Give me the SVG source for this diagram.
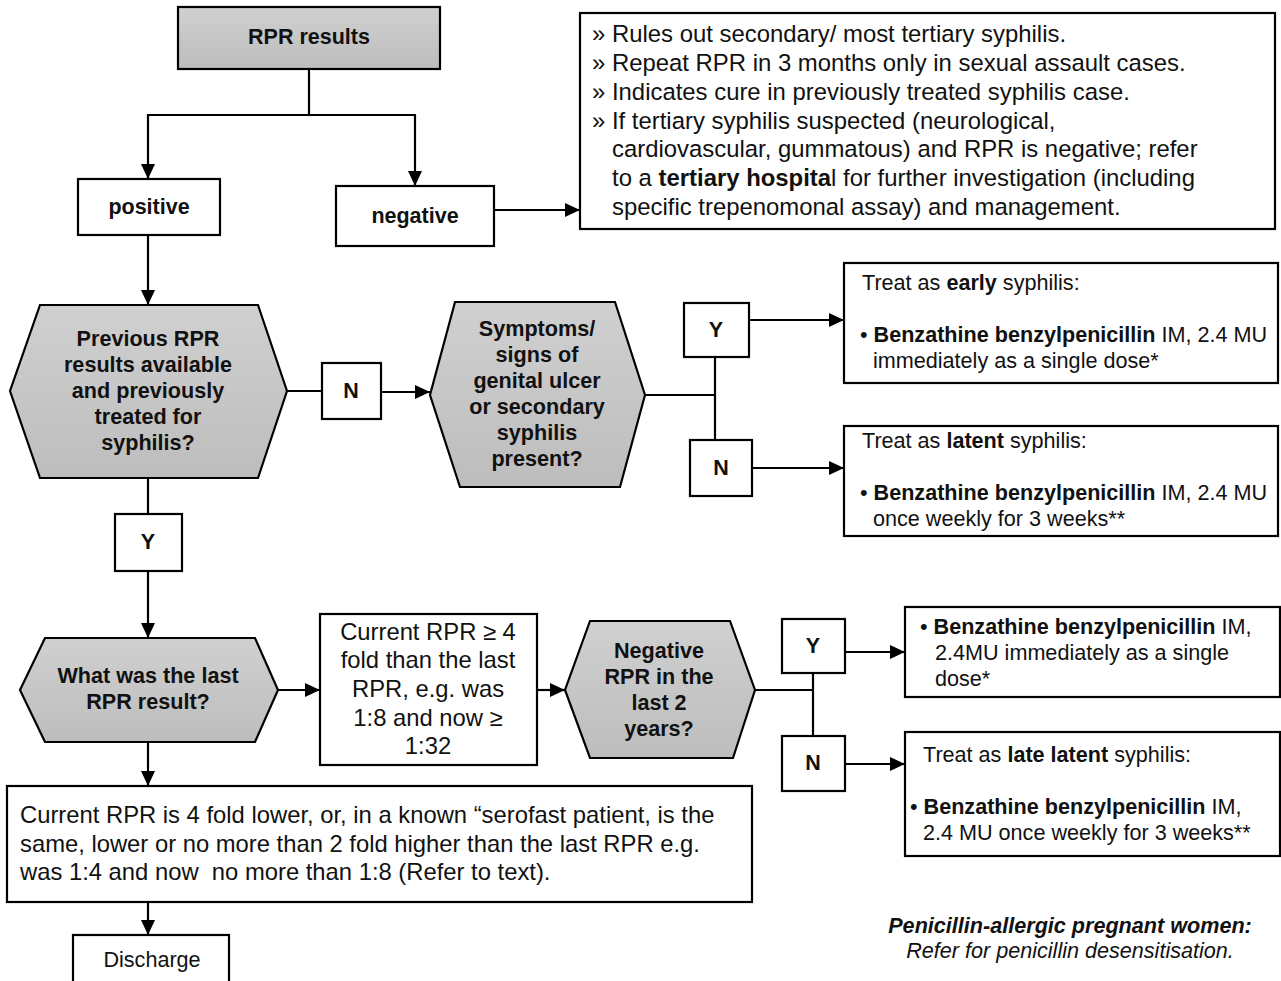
<svg xmlns="http://www.w3.org/2000/svg" width="1281" height="981" viewBox="0 0 1281 981">
<defs>
<marker id="ah" markerUnits="userSpaceOnUse" markerWidth="16" markerHeight="14" refX="15" refY="7" orient="auto">
<path d="M0 0 L15 7 L0 14 Z" fill="#000"/>
</marker>
<linearGradient id="gr" x1="0" y1="0" x2="0" y2="1">
<stop offset="0" stop-color="#d0d0d0"/><stop offset="1" stop-color="#bdbdbd"/>
</linearGradient>
</defs>
<style>
.box{fill:#fff;stroke:#000;stroke-width:2.2}
.hex{fill:url(#gr);stroke:#000;stroke-width:2.2}
.c{fill:none;stroke:#000;stroke-width:2.2}
.a{marker-end:url(#ah)}
text{font-family:"Liberation Sans",Arial,sans-serif;fill:#111}
.lb{font-size:21.5px;font-weight:bold;text-anchor:middle}
.hx{font-size:21.6px;font-weight:bold;text-anchor:middle}
.nt{font-size:23.9px}
.tx{font-size:21.6px}
.tb{font-size:23.8px}
.b{font-weight:bold}
</style>
<rect width="1281" height="981" fill="#fff"/>
<g id="connectors">
<path class="c a" d="M309 69 V115 H148 V179"/>
<path class="c a" d="M309 115 H415 V186"/>
<path class="c a" d="M494 210 H580"/>
<path class="c a" d="M148 235 V305"/>
<path class="c" d="M287 391 H322"/>
<path class="c a" d="M381 392 H430"/>
<path class="c" d="M645 395 H715 M715 357 V440"/>
<path class="c a" d="M749 320 H844"/>
<path class="c a" d="M752 468 H844"/>
<path class="c" d="M148 478 V514"/>
<path class="c a" d="M148 571 V638"/>
<path class="c a" d="M278 690 H320"/>
<path class="c a" d="M537 690 H565"/>
<path class="c" d="M755 690 H813 M813 673 V736"/>
<path class="c a" d="M845 652 H905"/>
<path class="c a" d="M845 764 H905"/>
<path class="c a" d="M148 742 V786"/>
<path class="c a" d="M148 902 V935"/>
</g>
<g id="rpr-results">
<rect class="hex" x="178" y="7" width="262" height="62"/>
<text class="lb" x="309" y="44">RPR results</text>
</g>
<g id="positive">
<rect class="box" x="78" y="179" width="142" height="56"/>
<text class="lb" x="149" y="214">positive</text>
</g>
<g id="negative">
<rect class="box" x="336" y="186" width="158" height="60"/>
<text class="lb" x="415" y="223">negative</text>
</g>
<g id="negative-notes">
<rect class="box" x="580" y="13" width="695" height="216"/>
<text class="nt" x="592" y="42">» Rules out secondary/ most tertiary syphilis.</text>
<text class="nt" x="592" y="71">» Repeat RPR in 3 months only in sexual assault cases.</text>
<text class="nt" x="592" y="100">» Indicates cure in previously treated syphilis case.</text>
<text class="nt" x="592" y="129">» If tertiary syphilis suspected (neurological,</text>
<text class="nt" x="612" y="157">cardiovascular, gummatous) and RPR is negative; refer</text>
<text class="nt" x="612" y="186">to a <tspan class="b">tertiary hospita</tspan>l for further investigation (including</text>
<text class="nt" x="612" y="215">specific trepenomonal assay) and management.</text>
</g>
<g id="previous-rpr">
<polygon class="hex" points="40,305 258,305 287,391 258,478 40,478 10,391"/>
<text class="hx" x="148" y="346">Previous RPR</text>
<text class="hx" x="148" y="372">results available</text>
<text class="hx" x="148" y="398">and previously</text>
<text class="hx" x="148" y="424">treated for</text>
<text class="hx" x="148" y="450">syphilis?</text>
</g>
<g id="n1">
<rect class="box" x="322" y="363" width="59" height="56"/>
<text class="lb" x="351" y="398">N</text>
</g>
<g id="symptoms">
<polygon class="hex" points="455,302 615,302 645,395 620,487 460,487 430,395"/>
<text class="hx" x="537" y="336">Symptoms/</text>
<text class="hx" x="537" y="362">signs of</text>
<text class="hx" x="537" y="388">genital ulcer</text>
<text class="hx" x="537" y="414">or secondary</text>
<text class="hx" x="537" y="440">syphilis</text>
<text class="hx" x="537" y="466">present?</text>
</g>
<g id="y2">
<rect class="box" x="684" y="303" width="65" height="54"/>
<text class="lb" x="716" y="337">Y</text>
</g>
<g id="n2">
<rect class="box" x="690" y="440" width="62" height="56"/>
<text class="lb" x="721" y="475">N</text>
</g>
<g id="early">
<rect class="box" x="844" y="263" width="434" height="120"/>
<text class="tx" x="862" y="290">Treat as <tspan class="b">early</tspan> syphilis:</text>
<text class="tx" x="860" y="342">• <tspan class="b">Benzathine benzylpenicillin</tspan> IM, 2.4 MU</text>
<text class="tx" x="873" y="368">immediately as a single dose*</text>
</g>
<g id="latent">
<rect class="box" x="844" y="426" width="434" height="110"/>
<text class="tx" x="862" y="448">Treat as <tspan class="b">latent</tspan> syphilis:</text>
<text class="tx" x="860" y="500">• <tspan class="b">Benzathine benzylpenicillin</tspan> IM, 2.4 MU</text>
<text class="tx" x="873" y="526">once weekly for 3 weeks**</text>
</g>
<g id="y1">
<rect class="box" x="115" y="514" width="67" height="57"/>
<text class="lb" x="148" y="549">Y</text>
</g>
<g id="last-rpr">
<polygon class="hex" points="45,638 255,638 278,690 255,742 45,742 20,690"/>
<text class="hx" x="148" y="683">What was the last</text>
<text class="hx" x="148" y="709">RPR result?</text>
</g>
<g id="current-higher">
<rect class="box" x="320" y="614" width="217" height="151"/>
<text class="tb" x="428" y="640" text-anchor="middle">Current RPR ≥ 4</text>
<text class="tb" x="428" y="668" text-anchor="middle">fold than the last</text>
<text class="tb" x="428" y="697" text-anchor="middle">RPR, e.g. was</text>
<text class="tb" x="428" y="726" text-anchor="middle">1:8 and now ≥</text>
<text class="tb" x="428" y="754" text-anchor="middle">1:32</text>
</g>
<g id="negative-2yrs">
<polygon class="hex" points="590,621 730,621 755,690 733,758 590,758 565,690"/>
<text class="hx" x="659" y="658">Negative</text>
<text class="hx" x="659" y="684">RPR in the</text>
<text class="hx" x="659" y="710">last 2</text>
<text class="hx" x="659" y="736">years?</text>
</g>
<g id="y3">
<rect class="box" x="782" y="619" width="63" height="54"/>
<text class="lb" x="813" y="653">Y</text>
</g>
<g id="n3">
<rect class="box" x="782" y="736" width="63" height="55"/>
<text class="lb" x="813" y="770">N</text>
</g>
<g id="single-dose">
<rect class="box" x="905" y="607" width="375" height="90"/>
<text class="tx" x="920" y="634">• <tspan class="b">Benzathine benzylpenicillin</tspan> IM,</text>
<text class="tx" x="935" y="660">2.4MU immediately as a single</text>
<text class="tx" x="935" y="686">dose*</text>
</g>
<g id="late-latent">
<rect class="box" x="905" y="732" width="375" height="124"/>
<text class="tx" x="923" y="762">Treat as <tspan class="b">late latent</tspan> syphilis:</text>
<text class="tx" x="910" y="814">• <tspan class="b">Benzathine benzylpenicillin</tspan> IM,</text>
<text class="tx" x="923" y="840">2.4 MU once weekly for 3 weeks**</text>
</g>
<g id="current-lower">
<rect class="box" x="7" y="786" width="745" height="116"/>
<text class="tb" x="20" y="823">Current RPR is 4 fold lower, or, in a known “serofast patient, is the</text>
<text class="tb" x="20" y="852">same, lower or no more than 2 fold higher than the last RPR e.g.</text>
<text class="tb" x="20" y="880">was 1:4 and now&#160; no more than 1:8 (Refer to text).</text>
</g>
<g id="discharge">
<rect class="box" x="73" y="935" width="156" height="50"/>
<text class="tx" x="152" y="967" text-anchor="middle">Discharge</text>
</g>
<g id="allergy-note">
<text class="tx" x="1070" y="933" text-anchor="middle" font-weight="bold" font-style="italic">Penicillin-allergic pregnant women:</text>
<text class="tx" x="1070" y="958" text-anchor="middle" font-style="italic">Refer for penicillin desensitisation.</text>
</g>
</svg>
